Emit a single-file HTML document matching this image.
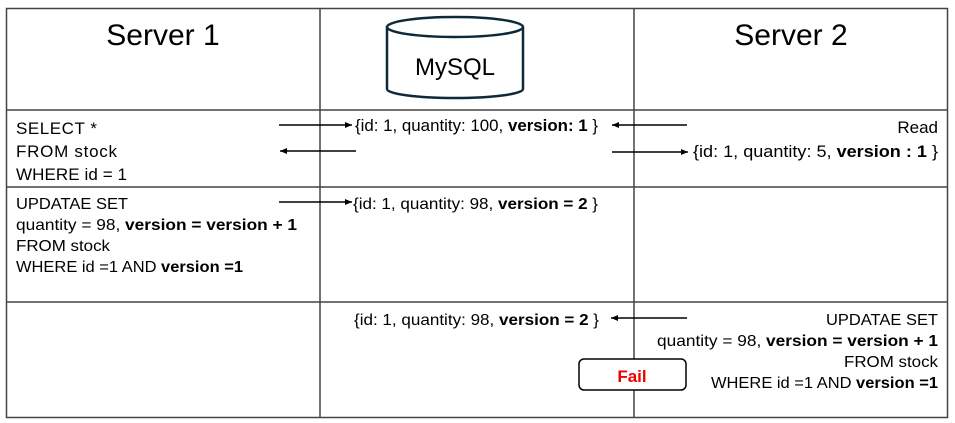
<!DOCTYPE html>
<html><head><meta charset="utf-8"><style>
html,body{margin:0;padding:0;background:#fff}
svg{display:block;font-family:"Liberation Sans",sans-serif}
</style></head><body>
<svg width="955" height="423" viewBox="0 0 955 423" xmlns="http://www.w3.org/2000/svg">
<defs><marker id="a" markerWidth="8" markerHeight="8" refX="7" refY="4" orient="auto" markerUnits="userSpaceOnUse"><path d="M0,1 L7,4 L0,7 z" fill="#000"/></marker></defs>
<g stroke="#444" stroke-width="1.5" fill="none">
<rect x="6.5" y="8.5" width="941" height="409"/>
<line x1="320" y1="8" x2="320" y2="417"/>
<line x1="634" y1="8" x2="634" y2="417"/>
<line x1="6" y1="110" x2="947" y2="110"/>
<line x1="6" y1="187" x2="947" y2="187"/>
<line x1="6" y1="302" x2="947" y2="302"/>
</g>
<g stroke="#0e2a3a" stroke-width="2.5" fill="#fff">
<path d="M387,27 L387,89 A68,9 0 0 0 523,89 L523,27"/>
<ellipse cx="455" cy="27" rx="68" ry="10"/>
</g>
<text x="455" y="75" font-size="24" text-anchor="middle">MySQL</text>
<text x="163" y="45" font-size="30" text-anchor="middle">Server 1</text>
<text x="791" y="45" font-size="30" text-anchor="middle">Server 2</text>
<g font-size="17" lengthAdjust="spacingAndGlyphs">
<text x="16" y="134" textLength="81">SELECT *</text>
<text x="16" y="157" textLength="101">FROM stock</text>
<text x="16" y="180" textLength="111">WHERE id = 1</text>
<text x="355" y="131" textLength="243" lengthAdjust="spacingAndGlyphs">{id: 1, quantity: 100, <tspan font-weight="bold">version: 1</tspan> }</text>
<text x="938" y="133" text-anchor="end">Read</text>
<text x="693" y="157" textLength="245" lengthAdjust="spacingAndGlyphs">{id: 1, quantity: 5, <tspan font-weight="bold">version : 1</tspan> }</text>
</g>
<g font-size="16">
<text x="16" y="209" textLength="112" lengthAdjust="spacingAndGlyphs">UPDATAE SET</text>
<text x="16" y="230" textLength="281" lengthAdjust="spacingAndGlyphs">quantity = 98, <tspan font-weight="bold">version = version + 1</tspan></text>
<text x="16" y="251" textLength="94" lengthAdjust="spacingAndGlyphs">FROM stock</text>
<text x="16" y="272" textLength="227" lengthAdjust="spacingAndGlyphs">WHERE id =1 AND <tspan font-weight="bold">version =1</tspan></text>
<text x="353" y="209" textLength="245" lengthAdjust="spacingAndGlyphs">{id: 1, quantity: 98, <tspan font-weight="bold">version = 2</tspan> }</text>
<text x="354" y="325" textLength="245" lengthAdjust="spacingAndGlyphs">{id: 1, quantity: 98, <tspan font-weight="bold">version = 2</tspan> }</text>
<text x="826" y="325" textLength="112" lengthAdjust="spacingAndGlyphs">UPDATAE SET</text>
<text x="657" y="346" textLength="281" lengthAdjust="spacingAndGlyphs">quantity = 98, <tspan font-weight="bold">version = version + 1</tspan></text>
<text x="844" y="367" textLength="94" lengthAdjust="spacingAndGlyphs">FROM stock</text>
<text x="711" y="388" textLength="227" lengthAdjust="spacingAndGlyphs">WHERE id =1 AND <tspan font-weight="bold">version =1</tspan></text>
</g>
<g stroke="#000" stroke-width="1.5" marker-end="url(#a)">
<line x1="279" y1="125" x2="352" y2="125"/>
<line x1="356" y1="151" x2="280" y2="151"/>
<line x1="687" y1="125" x2="612" y2="125"/>
<line x1="612" y1="152" x2="688" y2="152"/>
<line x1="279" y1="202" x2="352" y2="202"/>
<line x1="687" y1="318" x2="611" y2="318"/>
</g>
<rect x="579" y="359" width="107" height="31" rx="5" fill="#fff" stroke="#000" stroke-width="1.5"/>
<text x="632" y="382" font-size="17" font-weight="bold" fill="#e00" text-anchor="middle">Fail</text>
</svg>
</body></html>
